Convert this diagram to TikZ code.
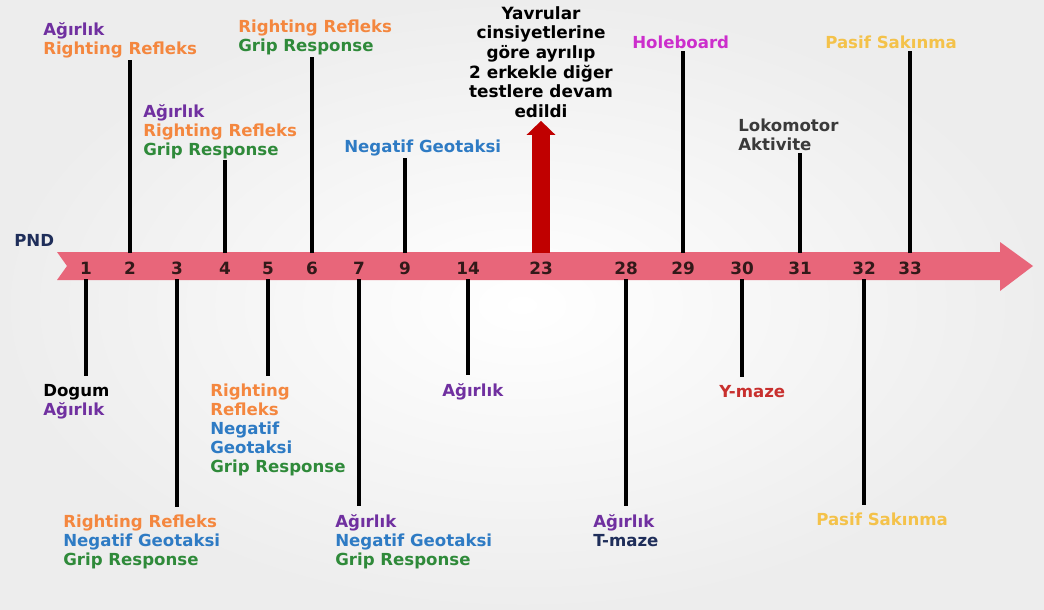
\documentclass[tikz,border=0pt]{standalone}
\usepackage{fontspec}
\setmainfont{DejaVu Sans}
\usetikzlibrary{arrows.meta,positioning}
\definecolor{timeline}{RGB}{232,102,122}
\definecolor{darkarrow}{RGB}{192,0,0}
\definecolor{cpurple}{RGB}{112,48,160}
\definecolor{corange}{RGB}{244,135,63}
\definecolor{cgreen}{RGB}{47,138,58}
\definecolor{cblue}{RGB}{46,123,196}
\definecolor{cmagenta}{RGB}{204,46,204}
\definecolor{cgold}{RGB}{244,194,74}
\definecolor{cnavy}{RGB}{31,46,90}
\definecolor{cgrey}{RGB}{58,58,58}
\definecolor{cred}{RGB}{200,48,46}
\definecolor{daytext}{RGB}{50,25,25}

\begin{document}
\begin{tikzpicture}[x=0.025cm,y=-0.025cm]
  \tikzset{>=stealth,
    lbl/.style={anchor=north west, inner sep=0pt, align=left,
      font=\bfseries\fontsize{11.8}{13.5}\selectfont},
    day/.style={inner sep=0pt, font=\bfseries\fontsize{12}{12}\selectfont, text=daytext},
    stem/.style={line width=2.5pt, black},
    red arrow/.style={line width=13pt, darkarrow, -{Triangle[width=20pt,length=10pt]}}}
  % Background
  \useasboundingbox (0,0) rectangle (1044,610);
  \shade[inner color=white, outer color=gray!14] (0,0) rectangle (1044,610);
  % Timeline bar
  \fill[timeline] (57,252) -- (1000,252) -- (1000,242) -- (1033,266) -- (1000,291)
    -- (1000,280) -- (57,280) -- (67,266) -- cycle;
  \coordinate (bar-top) at (0,253);
  \coordinate (bar-bottom) at (0,279);
  \node[lbl, anchor=west, text=cnavy] (pnd) at (14,240) {PND};
  \foreach \d/\x in {1/86,2/130,3/177,4/225,5/268,6/312,7/359,9/405,14/468,
      23/541,28/626,29/683,30/742,31/800,32/864,33/910}
    \node[day] (day-\d) at (\x,268) {\d};
  % Top labels
  \node[lbl] (top-2) at (43,22) {\textcolor{cpurple}{Ağırlık}\\\textcolor{corange}{Righting Refleks}};
  \node[lbl] (top-4) at (143,104) {\textcolor{cpurple}{Ağırlık}\\\textcolor{corange}{Righting Refleks}\\\textcolor{cgreen}{Grip Response}};
  \node[lbl] (top-6) at (238,20) {\textcolor{corange}{Righting Refleks}\\\textcolor{cgreen}{Grip Response}};
  \node[lbl, text=cblue] (top-9) at (344,140) {Negatif Geotaksi};
  \node[lbl, anchor=north, align=center, text=black,
    font=\bfseries\fontsize{12}{14}\selectfont] (top-23) at (541,6)
    {Yavrular\\cinsiyetlerine\\göre ayrılıp\\2 erkekle diğer\\testlere devam\\edildi};
  \node[lbl, text=cmagenta] (top-29) at (632,36) {Holeboard};
  \node[lbl, text=cgrey] (top-31) at (738,119) {Lokomotor\\Aktivite};
  \node[lbl, text=cgold] (top-33) at (825,36) {Pasif Sakınma};
  % Bottom labels
  \node[lbl] (bottom-1) at (43,384) {\textcolor{black}{Dogum}\\\textcolor{cpurple}{Ağırlık}};
  \node[lbl] (bottom-3) at (63,515) {\textcolor{corange}{Righting Refleks}\\\textcolor{cblue}{Negatif Geotaksi}\\\textcolor{cgreen}{Grip Response}};
  \node[lbl] (bottom-5) at (210,384) {\textcolor{corange}{Righting}\\\textcolor{corange}{Refleks}\\\textcolor{cblue}{Negatif}\\\textcolor{cblue}{Geotaksi}\\\textcolor{cgreen}{Grip Response}};
  \node[lbl] (bottom-7) at (335,514) {\textcolor{cpurple}{Ağırlık}\\\textcolor{cblue}{Negatif Geotaksi}\\\textcolor{cgreen}{Grip Response}};
  \node[lbl, text=cpurple] (bottom-14) at (442,383) {Ağırlık};
  \node[lbl] (bottom-28) at (593,514) {\textcolor{cpurple}{Ağırlık}\\\textcolor{cnavy}{T-maze}};
  \node[lbl, text=cred] (bottom-30) at (719,385) {Y-maze};
  \node[lbl, text=cgold] (bottom-32) at (816,513) {Pasif Sakınma};
  % Connectors
  \foreach \d in {2,4,6,9,29,31,33}
    \draw[stem, shorten >=1pt] (day-\d |- bar-top) -- (day-\d |- top-\d.south);
  \foreach \d in {1,3,5,7,14,28,30,32}
    \draw[stem, shorten >=6pt] (day-\d |- bar-bottom) -- (day-\d |- bottom-\d.north);
  \draw[red arrow, shorten >=2pt] (day-23 |- bar-top) -- (top-23.south);
\end{tikzpicture}
\end{document}
